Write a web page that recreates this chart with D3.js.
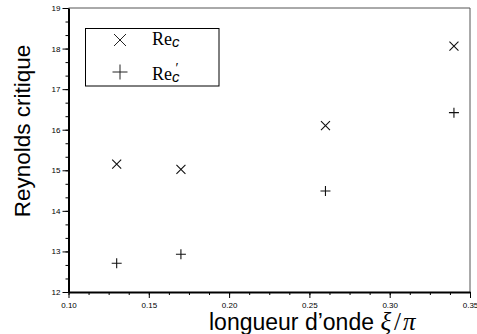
<!DOCTYPE html>
<html>
<head>
<meta charset="utf-8">
<script src="https://cdn.jsdelivr.net/npm/d3@7"></script>
<style>
  body { margin: 0; background: #fff; }
  svg { display: block; }
</style>
</head>
<body>
<div id="chart"></div>
<script>
// données
const longueurs = [0.13, 0.17, 0.26, 0.34];
const reC = [15.15, 15.02, 16.10, 18.06];
const reCprime = [12.71, 12.93, 14.49, 16.42];
const xTicks = [0.10, 0.15, 0.20, 0.25, 0.30, 0.35];
const yTicks = [12, 13, 14, 15, 16, 17, 18, 19];

const width = 477, height = 334;
const mLeft = 68.5, mRight = 470, mTop = 8, mBottom = 292;

const svg = d3.select("#chart").append("svg")
    .attr("width", width)
    .attr("height", height)
    .attr("font-family", "Liberation Sans, Arial, sans-serif");

const x = d3.scaleLinear().domain([0.10, 0.35]).range([mLeft, mRight]);
const y = d3.scaleLinear().domain([12, 19]).range([mBottom, mTop]);

// cadre fin en haut et à droite
svg.append("path")
    .attr("d", `M${mLeft},${mTop}H${mRight}V${mBottom}`)
    .attr("fill", "none")
    .attr("stroke", "#555")
    .attr("stroke-width", 1);

// ticks mineurs
const xMinor = d3.range(0.10, 0.3501, 0.0125);
const yMinor = d3.range(12, 19.001, 1 / 3);

svg.append("g")
    .attr("transform", `translate(0,${mBottom})`)
    .call(d3.axisBottom(x).tickValues(xMinor).tickSize(3).tickFormat(""))
    .call(g => g.select(".domain").remove());

svg.append("g")
    .attr("transform", `translate(${mLeft},0)`)
    .call(d3.axisLeft(y).tickValues(yMinor).tickSize(3).tickFormat(""))
    .call(g => g.select(".domain").remove());

// axes principaux
const xAxis = svg.append("g")
    .attr("transform", `translate(0,${mBottom})`)
    .call(d3.axisBottom(x).tickValues(xTicks).tickSize(6).tickSizeOuter(0).tickPadding(4)
        .tickFormat(d3.format(".2f")));
xAxis.select(".domain").attr("stroke-width", 2);
xAxis.selectAll("text").attr("font-size", 8).attr("font-family", "Liberation Sans, Arial, sans-serif");

const yAxis = svg.append("g")
    .attr("transform", `translate(${mLeft},0)`)
    .call(d3.axisLeft(y).tickValues(yTicks).tickSize(6).tickSizeOuter(0).tickPadding(2)
        .tickFormat(d3.format("d")));
yAxis.select(".domain").attr("stroke-width", 2);
yAxis.selectAll("text").attr("font-size", 8).attr("font-family", "Liberation Sans, Arial, sans-serif");

// marqueurs
const cross = (s) => `M${-s},${-s}L${s},${s}M${-s},${s}L${s},${-s}`;
const plus = (s) => `M${-s},0H${s}M0,${-s}V${s}`;

svg.append("g").selectAll("path")
    .data(longueurs)
    .join("path")
    .attr("transform", (d, i) => `translate(${x(d)},${y(reC[i])})`)
    .attr("d", cross(4.5))
    .attr("stroke", "#111")
    .attr("stroke-width", 1.1)
    .attr("fill", "none");

svg.append("g").selectAll("path")
    .data(longueurs)
    .join("path")
    .attr("transform", (d, i) => `translate(${x(d)},${y(reCprime[i])})`)
    .attr("d", plus(5))
    .attr("stroke", "#111")
    .attr("stroke-width", 1.1)
    .attr("fill", "none");

// légende
const legend = svg.append("g");
legend.append("rect")
    .attr("x", 85.5).attr("y", 28.5)
    .attr("width", 133.5).attr("height", 57.5)
    .attr("fill", "#fff")
    .attr("stroke", "#000")
    .attr("stroke-width", 1);
legend.append("path")
    .attr("transform", "translate(120,40)")
    .attr("d", cross(6))
    .attr("stroke", "#222").attr("stroke-width", 1).attr("fill", "none");
legend.append("path")
    .attr("transform", "translate(120,72)")
    .attr("d", plus(7.5))
    .attr("stroke", "#222").attr("stroke-width", 1).attr("fill", "none");

const lab1 = legend.append("text")
    .attr("x", 152).attr("y", 45)
    .attr("font-family", "Liberation Serif, Times New Roman, serif")
    .attr("font-size", 18);
lab1.append("tspan").text("Re");
lab1.append("tspan").attr("dy", 2).attr("font-family", "Liberation Sans, Arial, sans-serif")
    .attr("font-style", "italic").attr("font-size", 15).text("c");

const lab2 = legend.append("text")
    .attr("x", 152).attr("y", 80)
    .attr("font-family", "Liberation Serif, Times New Roman, serif")
    .attr("font-size", 18);
lab2.append("tspan").text("Re");
lab2.append("tspan").attr("dy", 2).attr("font-family", "Liberation Sans, Arial, sans-serif")
    .attr("font-style", "italic").attr("font-size", 15).text("c");
lab2.append("tspan").attr("dx", -4).attr("dy", -9).attr("font-size", 14).text("′");

// titres des axes
const xTitle = svg.append("text")
    .attr("x", 209).attr("y", 330)
    .attr("font-size", 23);
xTitle.append("tspan").text("longueur d’onde ");
xTitle.append("tspan").attr("font-family", "Liberation Serif, Times New Roman, serif")
    .attr("font-style", "italic").attr("font-size", 25).text("ξ");
xTitle.append("tspan").attr("font-family", "Liberation Serif, Times New Roman, serif")
    .attr("font-size", 25).attr("dx", 3).text("/");
xTitle.append("tspan").attr("font-family", "Liberation Serif, Times New Roman, serif")
    .attr("font-style", "italic").attr("font-size", 25).attr("dx", 2).text("π");

svg.append("text")
    .attr("transform", "translate(30,131) rotate(-90)")
    .attr("text-anchor", "middle")
    .attr("font-size", 22.5)
    .text("Reynolds critique");
</script>
</body>
</html>
